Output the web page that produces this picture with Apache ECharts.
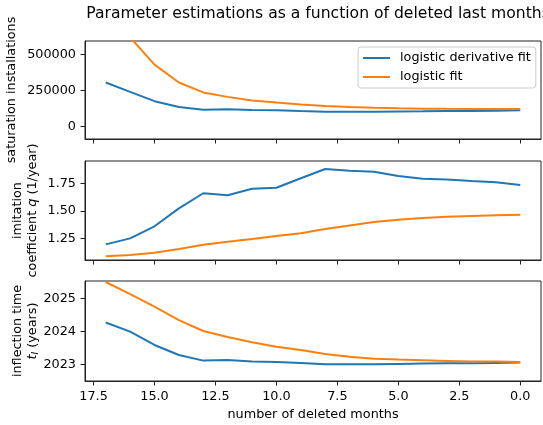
<!DOCTYPE html>
<html>
<head>
<meta charset="utf-8">
<script src="https://cdn.jsdelivr.net/npm/echarts@6/dist/echarts.min.js"></script>
<style>
  html, body { margin: 0; padding: 0; background: #fff; }
  #chart { width: 543px; height: 425px; }
</style>
</head>
<body>
<div id="chart"></div>
<script>
// number of deleted last months (x axis, drawn inverted)
const months = [17, 16, 15, 14, 13, 12, 11, 10, 9, 8, 7, 6, 5, 4, 3, 2, 1, 0];

// saturation installations
const satDeriv = [305000, 240000, 175000, 134000, 115000, 118000, 113000, 112000, 106000, 101000, 101000, 102000, 103000, 104000, 106000, 107000, 109000, 111000];
const satLogistic = [950000, 621000, 430000, 305000, 236000, 205000, 179000, 165000, 152000, 142000, 135000, 129000, 125000, 123000, 121500, 120500, 120000, 120000];

// imitation coefficient q
const qDeriv = [1.199, 1.253, 1.362, 1.524, 1.66, 1.642, 1.70, 1.71, 1.795, 1.879, 1.864, 1.855, 1.815, 1.79, 1.785, 1.77, 1.76, 1.735];
const qLogistic = [1.091, 1.103, 1.124, 1.157, 1.196, 1.223, 1.247, 1.274, 1.30, 1.338, 1.37, 1.40, 1.42, 1.437, 1.449, 1.455, 1.461, 1.467];

// inflection time t_I
const tDeriv = [2024.27, 2023.99, 2023.585, 2023.28, 2023.11, 2023.13, 2023.08, 2023.07, 2023.04, 2023.0, 2023.0, 2023.0, 2023.01, 2023.02, 2023.03, 2023.03, 2023.04, 2023.05];
const tLogistic = [2025.5, 2025.13, 2024.75, 2024.34, 2024.01, 2023.83, 2023.67, 2023.53, 2023.43, 2023.31, 2023.23, 2023.17, 2023.14, 2023.12, 2023.1, 2023.08, 2023.08, 2023.07];

// tick labels
const xTicks = [0, 2.5, 5, 7.5, 10, 12.5, 15, 17.5];
const satTicks = [0, 250000, 500000];
const qTicks = [1.25, 1.5, 1.75];
const tTicks = [2023, 2024, 2025];

const names = ['logistic derivative fit', 'logistic fit'];
const colors = ['#1f77b4', '#ff7f0e'];

const FONT = 'DejaVu Sans';
const FS = 12.8;
const AX = '#222';

const pair = (vals) => months.map((m, i) => [m, vals[i]]);

function xAxisFor (idx, withLabels) {
  return {
    type: 'value',
    gridIndex: idx,
    inverse: true,
    min: -0.85,
    max: 17.85,
    splitLine: { show: false },
    axisLine: { show: true, onZero: false, lineStyle: { color: AX, width: 1 } },
    axisTick: { show: true, customValues: xTicks, length: 4.5, lineStyle: { color: AX } },
    axisLabel: {
      show: withLabels,
      customValues: xTicks,
      margin: 9,
      color: '#000',
      fontFamily: FONT,
      fontSize: FS,
      formatter: (v) => Number(v).toFixed(1)
    },
    name: withLabels ? 'number of deleted months' : '',
    nameLocation: 'middle',
    nameGap: 27,
    nameMoveOverlap: false,
    nameTextStyle: { color: '#000', fontFamily: FONT, fontSize: FS }
  };
}

function yAxisFor (idx, min, max, ticks, digits, name, gap) {
  return {
    type: 'value',
    gridIndex: idx,
    min: min,
    max: max,
    splitLine: { show: false },
    axisLine: { show: true, onZero: false, lineStyle: { color: AX, width: 1 } },
    axisTick: { show: true, customValues: ticks, length: 4.5, lineStyle: { color: AX } },
    axisLabel: {
      customValues: ticks,
      margin: 9,
      color: '#000',
      fontFamily: FONT,
      fontSize: FS,
      formatter: (v) => Number(v).toFixed(digits)
    },
    name: name,
    nameLocation: 'middle',
    nameRotate: 90,
    nameGap: gap,
    nameMoveOverlap: false,
    nameTextStyle: {
      color: '#000',
      fontFamily: FONT,
      fontSize: FS,
      lineHeight: 15,
      rich: {
        i: { fontStyle: 'italic', fontFamily: FONT, fontSize: FS, color: '#000' },
        s: { fontStyle: 'italic', fontFamily: FONT, fontSize: 9, color: '#000', verticalAlign: 'bottom' }
      }
    }
  };
}

function line (name, color, xi, data) {
  return {
    name: name,
    type: 'line',
    xAxisIndex: xi,
    yAxisIndex: xi,
    data: pair(data),
    showSymbol: false,
    symbol: 'none',
    clip: true,
    lineStyle: { color: color, width: 2 },
    itemStyle: { color: color },
    emphasis: { disabled: true },
    animation: false
  };
}

const myChart = echarts.init(document.getElementById('chart'), null, { renderer: 'canvas' });

const gridBox = {
  left: 85,
  width: 456,
  containLabel: false,
  outerBoundsMode: 'none',
  show: true,
  borderColor: AX,
  borderWidth: 1,
  backgroundColor: 'transparent'
};

const option = {
  animation: false,
  backgroundColor: '#fff',
  title: {
    text: 'Parameter estimations as a function of deleted last months',
    left: 313,
    top: 1,
    textAlign: 'center',
    textStyle: { color: '#000', fontFamily: FONT, fontSize: 15.6, fontWeight: 'normal' }
  },
  legend: {
    data: names,
    orient: 'vertical',
    left: 358,
    top: 47,
    padding: [4, 5, 4, 5],
    itemGap: 5,
    itemWidth: 27,
    itemHeight: 2,
    icon: 'rect',
    backgroundColor: 'rgba(255,255,255,0.8)',
    borderColor: '#cccccc',
    borderWidth: 1,
    borderRadius: 3,
    textStyle: { color: '#000', fontFamily: FONT, fontSize: FS, lineHeight: 14, padding: [0, 0, 0, 5] }
  },
  grid: [
    Object.assign({ top: 41, height: 98 }, gridBox),
    Object.assign({ top: 161, height: 99 }, gridBox),
    Object.assign({ top: 281, height: 100 }, gridBox)
  ],
  xAxis: [xAxisFor(0, false), xAxisFor(1, false), xAxisFor(2, true)],
  yAxis: [
    yAxisFor(0, -89000, 595000, satTicks, 0, 'saturation installations', 66),
    yAxisFor(1, 1.058, 1.951, qTicks, 2, 'imitation\ncoefficient {i|q} (1/year)', 45),
    yAxisFor(2, 2022.49, 2025.53, tTicks, 0, 'inflection time\n{i|t}{s|I} (years)', 45)
  ],
  series: [
    line(names[0], colors[0], 0, satDeriv),
    line(names[1], colors[1], 0, satLogistic),
    line(names[0], colors[0], 1, qDeriv),
    line(names[1], colors[1], 1, qLogistic),
    line(names[0], colors[0], 2, tDeriv),
    line(names[1], colors[1], 2, tLogistic)
  ]
};

myChart.setOption(option);
</script>
</body>
</html>
